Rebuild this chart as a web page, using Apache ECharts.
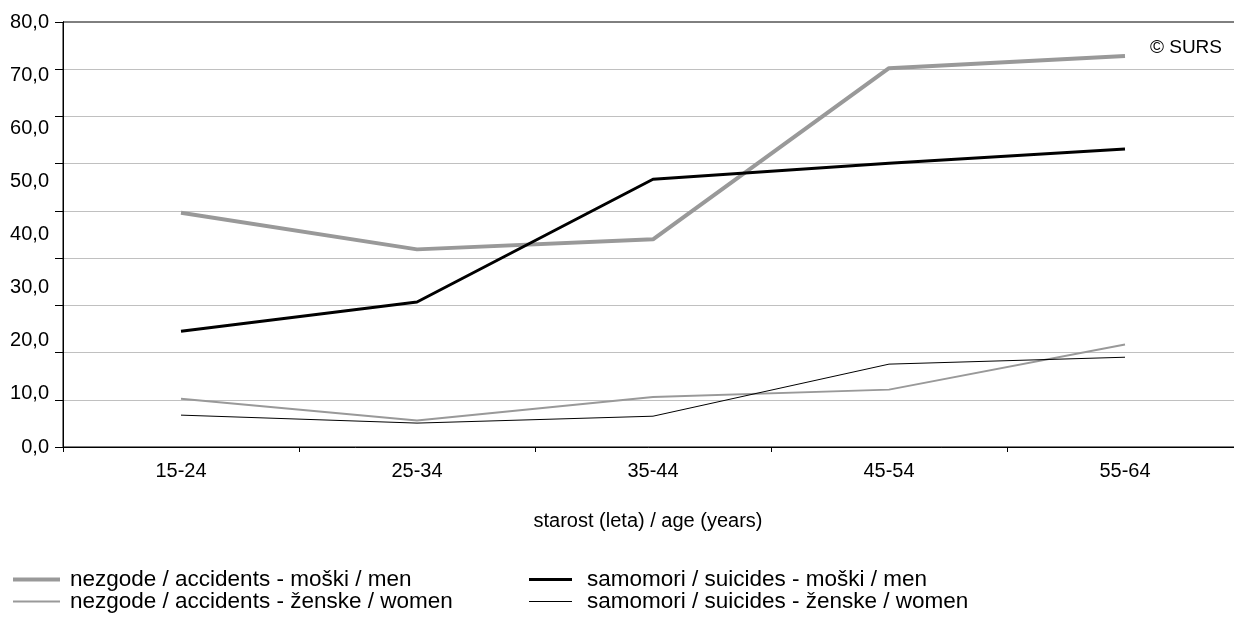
<!DOCTYPE html>
<html>
<head>
<meta charset="utf-8">
<script src="https://cdn.jsdelivr.net/npm/echarts@6/dist/echarts.min.js"></script>
<style>
html,body{margin:0;padding:0;background:#fff;}
#chart{width:1234px;height:622px;}
</style>
</head>
<body>
<div id="chart"></div>
<script>
const categories = ['15-24', '25-34', '35-44', '45-54', '55-64'];
const accidentsMen = [44.1, 37.2, 39.1, 71.3, 73.6];
const suicidesMen = [21.8, 27.3, 50.4, 53.4, 56.1];
const accidentsWomen = [9.1, 5.0, 9.4, 10.8, 19.3];
const suicidesWomen = [6.0, 4.5, 5.8, 15.6, 16.9];
const seriesNames = [
  'nezgode / accidents - moški / men',
  'samomori / suicides - moški / men',
  'nezgode / accidents - ženske / women',
  'samomori / suicides - ženske / women'
];
const yLabelMax = 80;
const yGridMax = 90;
const xAxisTitle = 'starost (leta) / age (years)';
const sourceNote = '© SURS';

const FONT = '"Liberation Sans", Arial, sans-serif';
const chart = echarts.init(document.getElementById('chart'));

function mkLegend(name, left, top, w, pad, lw, color) {
  return {
    data: [name], left: left, top: top, itemWidth: w, itemHeight: lw, padding: 0,
    icon: 'rect',
    itemStyle: {color: color, borderWidth: 0},
    textStyle: {fontFamily: FONT, fontSize: 22.5, color: '#000', padding: [0, 0, 0, pad]}
  };
}

chart.setOption({
  animation: false,
  backgroundColor: '#fff',
  grid: {left: 63, width: 1180, top: 22, bottom: 175, outerBoundsMode: 'none',
         show: true, borderColor: '#000', borderWidth: 1, backgroundColor: 'transparent'},
  xAxis: [{
    type: 'category', data: categories, boundaryGap: true,
    axisLine: {lineStyle: {color: '#000', width: 1}},
    axisTick: {show: true, length: 5, lineStyle: {color: '#000'}},
    axisLabel: {fontFamily: FONT, fontSize: 20, color: '#000', margin: 14},
    name: xAxisTitle, nameLocation: 'middle', nameGap: 64,
    nameTextStyle: {fontFamily: FONT, fontSize: 20, color: '#000', padding: [0, 10, 0, 0]}
  }],
  yAxis: [{
    type: 'value', min: 0, max: yLabelMax, interval: 10, position: 'left',
    axisLine: {show: true, lineStyle: {color: '#000'}},
    axisTick: {show: false}, splitLine: {show: false},
    axisLabel: {fontFamily: FONT, fontSize: 20, color: '#000', margin: 14,
      formatter: v => v.toFixed(1).replace('.', ',')}
  }, {
    type: 'value', min: 0, max: yGridMax, interval: 10, position: 'left',
    axisLine: {show: true, lineStyle: {color: '#000'}},
    axisTick: {show: true, inside: false, length: 8, lineStyle: {color: '#000'}},
    axisLabel: {show: false},
    splitLine: {show: true, showMaxLine: false, lineStyle: {color: '#c0c0c0', width: 1}}
  }],
  legend: [
    mkLegend(seriesNames[0], 13, 568, 47, 5, 4, '#999'),
    mkLegend(seriesNames[1], 529, 568, 43, 10, 3, '#000'),
    mkLegend(seriesNames[2], 13, 590, 47, 5, 2, '#999'),
    mkLegend(seriesNames[3], 529, 590, 43, 10, 1, '#000')
  ],
  graphic: [{
    type: 'text', right: 12, top: 38,
    style: {text: sourceNote, font: '19px ' + FONT, fill: '#000'}
  }],
  series: [
    {name: seriesNames[0], type: 'line', data: accidentsMen, symbol: 'none', yAxisIndex: 0,
     itemStyle: {color: '#999'}, lineStyle: {color: '#999', width: 4}, z: 3},
    {name: seriesNames[1], type: 'line', data: suicidesMen, symbol: 'none', yAxisIndex: 0,
     itemStyle: {color: '#000'}, lineStyle: {color: '#000', width: 3}, z: 4},
    {name: seriesNames[2], type: 'line', data: accidentsWomen, symbol: 'none', yAxisIndex: 0,
     itemStyle: {color: '#999'}, lineStyle: {color: '#999', width: 2}, z: 3},
    {name: seriesNames[3], type: 'line', data: suicidesWomen, symbol: 'none', yAxisIndex: 0,
     itemStyle: {color: '#000'}, lineStyle: {color: '#000', width: 1}, z: 4}
  ]
});
</script>
</body>
</html>
